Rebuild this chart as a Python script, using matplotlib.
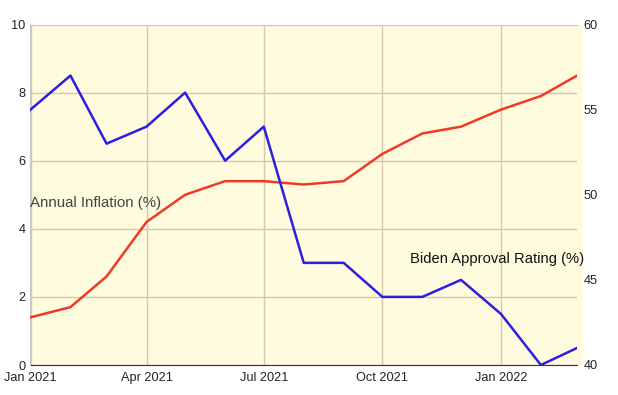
import matplotlib
matplotlib.use("Agg")
import matplotlib.pyplot as plt
import matplotlib.dates as mdates
import pandas as pd

plt.rcParams['font.family'] = ['Liberation Sans', 'DejaVu Sans']

months = pd.date_range('2021-01-01', '2022-03-01', freq='MS')
inflation = [1.4, 1.7, 2.6, 4.2, 5.0, 5.4, 5.4, 5.3, 5.4, 6.2, 6.8, 7.0, 7.5, 7.9, 8.5]
approval = [55, 57, 53, 54, 56, 52, 54, 46, 46, 44, 44, 45, 43, 40, 41]

tick_dates = pd.to_datetime(['2021-01-01', '2021-04-01', '2021-07-01', '2021-10-01', '2022-01-01'])

W, H = 618, 395
fig = plt.figure(figsize=(W / 100, H / 100), dpi=100)
x0, x1, ytop, ybot = 30.5, 577, 24.5, 365
# background band (slightly wider than plot area)
fig.patches.append(plt.Rectangle((x0 / W, 1 - ybot / H), (583 - x0) / W, (ybot - ytop) / H,
                                 transform=fig.transFigure, facecolor='#FFFBDF',
                                 edgecolor='none', zorder=-5))
ax = fig.add_axes([x0 / W, 1 - ybot / H, (x1 - x0) / W, (ybot - ytop) / H])
ax.set_facecolor('none')
ax2 = ax.twinx()
ax.set_zorder(1)
ax2.set_zorder(2)
ax2.patch.set_visible(False)

grid_c = '#D9C7A9'
ax.plot(months, inflation, color='#F03A25', lw=1.8, zorder=3)
ax2.plot(months, approval, color='#2B1FE0', lw=1.8, zorder=3)

ax.set_xlim(months[0], months[-1])
ax.set_ylim(0, 10)
ax2.set_ylim(40, 60)
ax.set_yticks([0, 2, 4, 6, 8, 10])
ax2.set_yticks([40, 45, 50, 55, 60])
ax.set_xticks(tick_dates)
ax.xaxis.set_major_formatter(mdates.DateFormatter('%b %Y'))

ax.grid(True, color=grid_c, lw=1)
ax.set_axisbelow(True)
for a in (ax, ax2):
    for s in ('top', 'right', 'left', 'bottom'):
        a.spines[s].set_visible(False)
ax.spines['left'].set_visible(True)
ax.spines['left'].set_color('#C8C8C8')
ax.spines['top'].set_visible(True)
ax.spines['top'].set_color('#C8C8C8')
ax.spines['bottom'].set_visible(True)
ax.spines['bottom'].set_color('#333333')

ax.tick_params(axis='x', length=0, labelsize=9.2, colors='#222222', pad=5.2)
ax.tick_params(axis='y', length=0, labelsize=9.2, colors='#222222', pad=3.5)
ax2.tick_params(axis='y', length=0, labelsize=9.2, colors='#222222', pad=4.5)

ax.text(0.0, 0.475, 'Annual Inflation (%)', transform=ax.transAxes, fontsize=10.8,
        color='#444444', ha='left', va='center', zorder=4)
ax.text(1.013, 0.31, 'Biden Approval Rating (%)', transform=ax.transAxes, fontsize=10.6,
        color='#111111', ha='right', va='center', zorder=4)

fig.savefig('out.png', dpi=100)
